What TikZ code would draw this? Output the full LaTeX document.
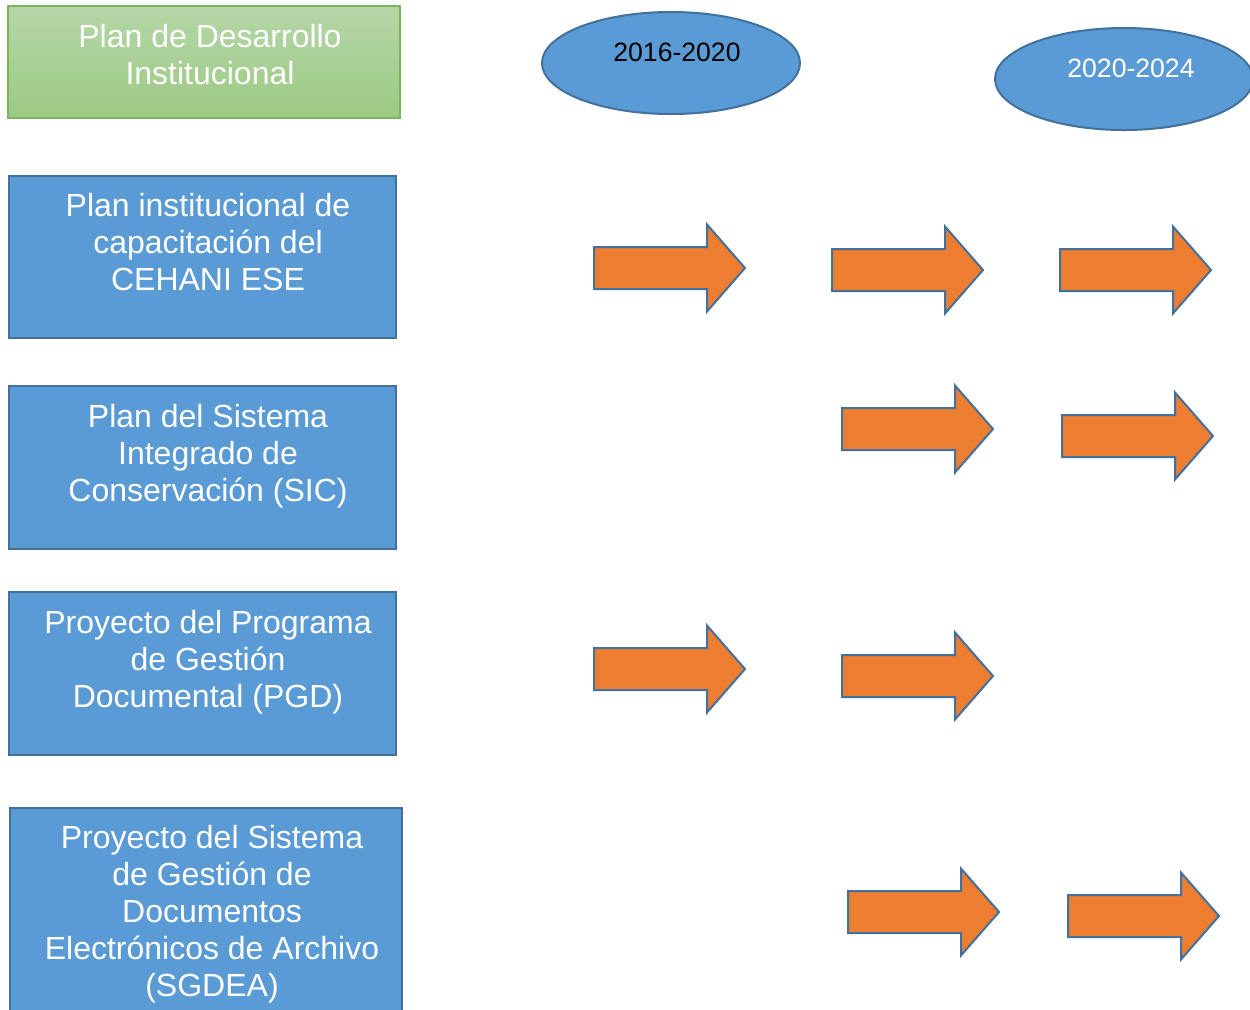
\documentclass[tikz,border=0pt]{standalone}
\usepackage{fontspec}
\setmainfont{Liberation Sans}
\usetikzlibrary{shapes.geometric}
\definecolor{bluefill}{HTML}{5B9BD5}
\definecolor{blueline}{HTML}{41719C}
\definecolor{orangefill}{HTML}{ED7D31}
\definecolor{greentop}{HTML}{B5D7A8}
\definecolor{greenbot}{HTML}{9CC983}
\definecolor{greenline}{HTML}{7AB55C}
\begin{document}
\begin{tikzpicture}[x=0.5pt,y=-0.5pt,
  bluebox/.style={draw=blueline, fill=bluefill, line width=1.1pt, inner sep=0pt},
  greenbox/.style={draw=greenline, top color=greentop, bottom color=greenbot, line width=0.8pt, inner sep=0pt},
  period/.style={ellipse, draw=blueline, fill=bluefill, line width=1pt, inner sep=0pt, minimum width=129pt, minimum height=51pt},
  txt/.style={text=white, align=center, inner sep=0pt, font=\fontsize{16}{18.5}\selectfont},
  ptxt/.style={inner sep=0pt, font=\fontsize{13.3}{15}\selectfont},
  arrowstyle/.style={draw=blueline, fill=orangefill, line width=1pt, line join=miter},
  myarrow/.pic={\path[arrowstyle] (0,-21)--(113,-21)--(113,-43.5)--(151,0)--(113,43.5)--(113,21)--(0,21)--cycle;}
]
\clip (0,0) rectangle (1250,1009);
\fill[white] (0,0) rectangle (1250,1009);

% left boxes
\node[greenbox, minimum width=196pt, minimum height=56pt] (g) at (204,62) {};
\node[txt] (gt) at (210,54.5) {Plan de Desarrollo\\Institucional};

\node[bluebox, minimum width=193.5pt, minimum height=81pt] (b1) at (202.5,257) {};
\node[txt] (b1t) at (208,242.5) {Plan institucional de\\capacitación del\\CEHANI ESE};

\node[bluebox, minimum width=193.5pt, minimum height=81.5pt] (b2) at (202.5,467.5) {};
\node[txt] (b2t) at (208,456) {Plan del Sistema\\Integrado de\\Conservación (SIC)};

\node[bluebox, minimum width=193.5pt, minimum height=81.5pt] (b3) at (202.5,673.5) {};
\node[txt] (b3t) at (208,662.5) {Proyecto del Programa\\de Gestión\\Documental (PGD)};

\node[bluebox, minimum width=196pt, minimum height=110pt] (b4) at (206,918) {};
\node[txt] (b4t) at (212,914.5) {Proyecto del Sistema\\de Gestión de\\Documentos\\Electrónicos de Archivo\\(SGDEA)};

% periods
\node[period] (e1) at (671,63) {};
\node[ptxt, text=black] (e1t) at (677,52.5) {2016-2020};
\node[period] (e2) at (1124,79) {};
\node[ptxt, text=white] (e2t) at (1131,68.5) {2020-2024};

% arrows
\pic at (594,268) {myarrow};
\pic at (832,270) {myarrow};
\pic at (1060,270) {myarrow};
\pic at (842,429) {myarrow};
\pic at (1062,436) {myarrow};
\pic at (594,669) {myarrow};
\pic at (842,676) {myarrow};
\pic at (848,912) {myarrow};
\pic at (1068,916) {myarrow};
\end{tikzpicture}
\end{document}
